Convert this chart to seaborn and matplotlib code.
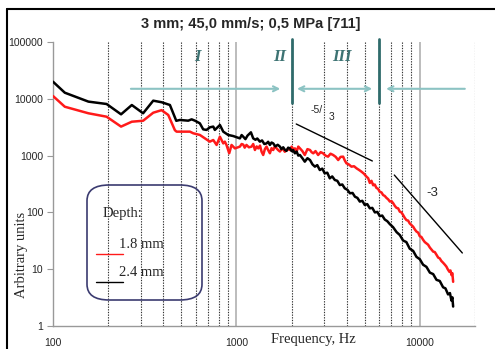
import numpy as np
import pandas as pd
import matplotlib
matplotlib.use("Agg")
import matplotlib.pyplot as plt
import seaborn as sns
from matplotlib.patches import FancyBboxPatch
from matplotlib.lines import Line2D

# ---------------- data ----------------
freq_red = [100, 116, 156, 196, 235, 269, 310, 352, 391, 425, 462, 472, 513, 558, 582, 632, 673, 716,
            748, 780, 813, 848, 865, 883, 914, 941, 982,
            1045, 1068, 1090, 1110, 1135, 1170, 1210, 1235, 1262, 1290, 1315, 1345, 1372, 1400, 1430,
            1460, 1490, 1523, 1555, 1588, 1620, 1656, 1690, 1727, 1780, 1837, 1900, 1958, 2000, 2040,
            2085, 2130, 2175, 2220, 2290, 2360, 2440, 2520, 2570, 2625, 2700, 2790, 2880, 2970, 3060,
            3160, 3260, 3370, 3480, 3590, 3700, 3820, 3900, 3980, 4100, 4240, 4380, 4520, 4660, 4810,
            4960, 5120, 5230, 5340, 5450, 5570, 5680, 5800, 5920, 6050, 6180, 6310, 6440, 6580, 6720,
            6870, 7010, 7160, 7310, 7470, 7620, 7780, 7940, 8110, 8280, 8460, 8630, 8810, 9000, 9200,
            9400, 9590, 9800, 10000, 10200, 10420, 10650, 10870, 11100, 11350, 11600, 11830, 12080,
            12330, 12600, 12850, 13100, 13400, 13700, 13970, 14200, 14500, 14700, 14880, 15050, 15200]
val_red = [11200, 7250, 5560, 4840, 3240, 3950, 4110, 5690, 6310, 5190, 2800, 2640, 2640, 2640, 2470,
           2310, 2010, 1760, 1880, 1540, 2150, 1640, 1760, 1540, 1100, 1540, 1340,
           1440, 1600, 1560, 1380, 1540, 1400, 1440, 1600, 1255, 1450, 1340, 1500, 1170, 1025, 1300,
           1440, 1250, 1100, 1350, 1255, 1450, 1340, 1250, 1180, 1350, 1170, 1300, 1255, 1436, 1300,
           1340, 1172, 1440, 1343, 1200, 1025, 1300, 1255, 1150, 1097, 1200, 1025, 1150, 1097, 1000,
           958, 1080, 1025, 950, 836, 950, 958, 820, 731, 700, 639, 650, 597, 560, 521,
           480, 426, 400, 330, 360, 300, 310, 270, 260, 230, 225, 202, 195, 180, 170,
           155, 158, 145, 130, 120, 118, 103, 100, 90, 80, 73, 72, 64, 60, 56,
           50, 46, 44, 38, 37, 33, 30, 28.5, 27, 24, 22, 20.4, 20,
           18, 16, 15.5, 14, 13, 12, 11.1, 10, 9, 9.5, 7.9, 8.5, 6.0]

freq_blk = [100, 116, 156, 196, 235, 269, 310, 352, 391, 434, 470, 492, 546, 570, 594, 632, 659, 687,
            717, 748, 763, 813, 848, 902, 961,
            1045, 1068, 1090, 1120, 1150, 1200, 1235, 1270, 1300, 1343, 1380, 1420, 1460, 1490, 1523,
            1555, 1588, 1630, 1680, 1727, 1760, 1800, 1840, 1877, 1915, 1958, 2000, 2040, 2085, 2130,
            2175, 2220, 2290, 2360, 2440, 2520, 2600, 2680, 2760, 2850, 2940, 3030, 3130, 3230, 3330,
            3440, 3550, 3665, 3780, 3900, 4030, 4160, 4300, 4430, 4570, 4710, 4860, 5010, 5170, 5340,
            5510, 5690, 5870, 6050, 6240, 6440, 6650, 6870, 7150, 7470, 7780, 8110, 8450, 8810, 9200,
            9590, 10000, 10420, 10870, 11350, 11830, 12330, 12850, 13400, 13800, 14260, 14600, 14880,
            15050, 15200]
val_blk = [20000, 12800, 8920, 8100, 5330, 7770, 5560, 9270, 8700, 7780, 4100, 4240, 4120, 4350, 4120,
           3700, 2900, 2830, 3150, 3240, 2830, 3460, 2640, 2310, 2210,
           2010, 2300, 2150, 1950, 2250, 2570, 2010, 1900, 2000, 1760, 1850, 1600, 1640, 1750, 1540,
           1700, 1640, 1450, 1550, 1440, 1300, 1400, 1260, 1210, 1380, 1343, 1200, 1255, 1097, 1180,
           1000, 1025, 900, 782, 900, 836, 700, 639, 680, 557, 590, 487, 500, 398, 430,
           372, 360, 303, 310, 265, 250, 217, 220, 189, 180, 155, 160, 135, 140, 118,
           120, 100, 102, 86, 88, 75, 70, 62, 55, 45, 40, 32, 30, 23, 21,
           16.5, 15, 12, 11, 8.7, 8.2, 6.5, 6.2, 4.8, 4.6, 3.6, 3.8, 2.8,
           3.2, 2.2]

labels = ["1.8 mm", "2.4 mm"]
colors = ["#ff1a1a", "#000000"]
title = "3 mm; 45,0 mm/s; 0,5 MPa [711]"
yticks = [1, 10, 100, 1000, 10000, 100000]
ytick_labels = ["1", "10", "100", "1000", "10000", "100000"]
xticks = [100, 1000, 10000]
xtick_labels = ["100", "1000", "10000"]
dotted_x = [200, 300, 400, 500, 600, 700, 800, 900, 2000, 3000, 4000, 5000, 6000, 7000, 8000, 9000, 20000]
solid_x = [1000, 10000]

df = pd.concat([
    pd.DataFrame({"freq": freq_red, "val": val_red, "depth": labels[0]}),
    pd.DataFrame({"freq": freq_blk, "val": val_blk, "depth": labels[1]}),
], ignore_index=True)

# ---------------- figure ----------------
sns.set_style("white")
plt.rcParams["font.family"] = ["Liberation Sans", "DejaVu Sans"]

fig = plt.figure(figsize=(4.95, 3.49), dpi=100)
ax = fig.add_axes([53/495, 1-326/349, (475-53)/495, (326-42)/349])
ax.set_xscale("log")
ax.set_yscale("log")
ax.set_xlim(100, 20000)
ax.set_ylim(1, 100000)

for xv in dotted_x:
    ax.axvline(xv, color="#333333", lw=0.8, ls=(0, (1.2, 1.2)), zorder=1)
for xv in solid_x:
    ax.axvline(xv, color="#b0b0b0", lw=1.2, zorder=1)

sns.lineplot(data=df, x="freq", y="val", hue="depth", palette=dict(zip(labels, colors)),
             estimator=None, sort=False, legend=False, lw=1.8, ax=ax, zorder=3)

ax.set_xlabel("")
ax.set_ylabel("")
for s in ["top", "right"]:
    ax.spines[s].set_visible(False)
for s in ["left", "bottom"]:
    ax.spines[s].set_color("#999999")
    ax.spines[s].set_linewidth(1.0)

ax.set_yticks(yticks)
ax.set_yticklabels(ytick_labels, fontsize=7.5)
ax.set_xticks(xticks)
ax.set_xticklabels(xtick_labels, fontsize=7.5)
ax.minorticks_off()
ax.tick_params(axis="y", direction="out", length=4, width=0.8, color="#999999", pad=3, left=True)
ax.tick_params(axis="x", direction="out", length=0, pad=9, bottom=True)

# teal region markers
teal_dark = "#2f6b6b"
teal_light = "#8cc3c3"
for xv in [2000, 6000]:
    ax.plot([xv, xv], [8430, 113000], color=teal_dark, lw=2.0, clip_on=False, zorder=4)
arr = dict(arrowstyle="->", color=teal_light, lw=1.5, mutation_scale=9, shrinkA=0, shrinkB=0)
ax.annotate("", xy=(1735, 15000), xytext=(266, 15000), arrowprops=arr)
ax.annotate("", xy=(5500, 15000), xytext=(2140, 15000),
            arrowprops=dict(arr, arrowstyle="<->"))
ax.annotate("", xy=(6550, 15000), xytext=(17600, 15000), arrowprops=arr)
for txt, xv in [("I", 610), ("II", 1726), ("III", 3760)]:
    ax.text(xv, 54500, txt, color="#3d7373", fontsize=12, fontweight="bold", fontstyle="italic",
            family="Liberation Serif", ha="center", va="center")

# slope guides
ax.plot([2120, 5510], [3600, 804], color="black", lw=1.0, zorder=4)
ax.plot([7260, 17060], [455, 19.3], color="black", lw=1.0, zorder=4)
fig.text(317/495, 1-110/349, "-5/", fontsize=7.5, ha="center", va="center")
fig.text(332/495, 1-117/349, "3", fontsize=7.5, ha="center", va="center")
fig.text(432/495, 1-193/349, "-3", fontsize=9.5, ha="center", va="center")

# legend box
box = FancyBboxPatch((87/495, 1-300/349), 115/495, 115/349,
                     boxstyle="round,pad=0,rounding_size=0.045", transform=fig.transFigure,
                     fill=False, ec="#3b3b70", lw=1.2, zorder=5)
fig.patches.append(box)
fig.text(103/495, 1-213/349, "Depth:", family="Liberation Serif", fontsize=10.5, va="center")
fig.text(119/495, 1-245/349, labels[0], family="Liberation Serif", fontsize=10.5, va="center")
fig.text(119/495, 1-273/349, labels[1], family="Liberation Serif", fontsize=10.5, va="center")
fig.lines.append(Line2D([96/495, 123/495], [1-254/349, 1-254/349], transform=fig.transFigure,
                        color=colors[0], lw=1.0))
fig.lines.append(Line2D([96/495, 123/495], [1-282/349, 1-282/349], transform=fig.transFigure,
                        color=colors[1], lw=1.0))

# axis labels & title
fig.text(22/495, 1-255/349, "Arbitrary units", family="Liberation Serif", fontsize=10.5,
         rotation=90, ha="center", va="center")
fig.text(313/495, 1-339/349, "Frequency, Hz", family="Liberation Serif", fontsize=10.5,
         ha="center", va="center")
fig.text(251/495, 1-24/349, title, fontsize=10.5, fontweight="bold", ha="center", va="center")

# outer frame
fig.lines.append(Line2D([7/495, 7/495], [0, 1-9/349], transform=fig.transFigure, color="black", lw=1.5))
fig.lines.append(Line2D([7/495, 1], [1-9/349, 1-9/349], transform=fig.transFigure, color="black", lw=1.5))

fig.savefig("out.png", dpi=100)
